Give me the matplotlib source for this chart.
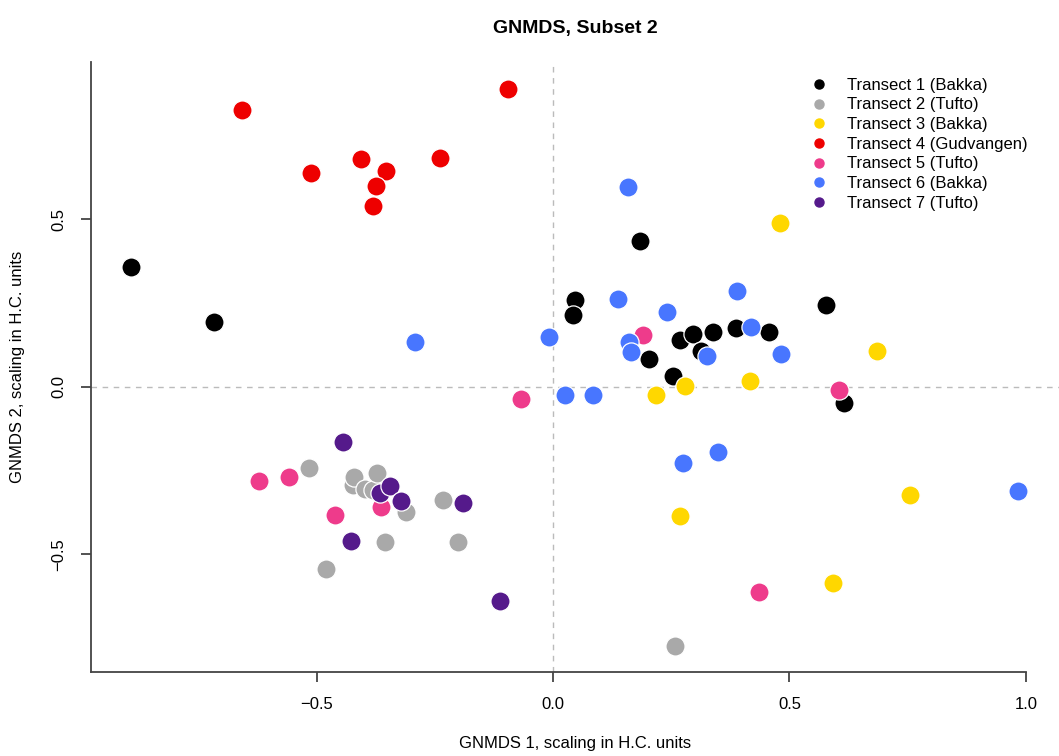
import numpy as np
import matplotlib.pyplot as plt

plt.rcParams['font.family'] = ['Liberation Sans', 'DejaVu Sans']

labels = ['Transect 1 (Bakka)', 'Transect 2 (Tufto)', 'Transect 3 (Bakka)',
          'Transect 4 (Gudvangen)', 'Transect 5 (Tufto)', 'Transect 6 (Bakka)',
          'Transect 7 (Tufto)']
colors = ['#000000', '#A9A9A9', '#FFD700', '#EE0000', '#EE3B8B', '#4876FF', '#551A8B']

t1_x = [-0.892, -0.716, 0.184, 0.047, 0.042, 0.204, 0.269, 0.296, 0.338, 0.314, 0.388, 0.457, 0.577, 0.254, 0.615]
t1_y = [0.357, 0.192, 0.435, 0.260, 0.213, 0.083, 0.140, 0.158, 0.165, 0.108, 0.175, 0.165, 0.243, 0.031, -0.049]

t2_x = [-0.517, -0.481, -0.423, -0.420, -0.398, -0.381, -0.372, -0.356, -0.310, -0.233, -0.200, 0.259]
t2_y = [-0.243, -0.545, -0.293, -0.270, -0.305, -0.307, -0.258, -0.464, -0.374, -0.338, -0.465, -0.775]

t3_x = [0.481, 0.686, 0.217, 0.280, 0.417, 0.268, 0.754, 0.592]
t3_y = [0.489, 0.107, -0.025, 0.003, 0.018, -0.386, -0.324, -0.585]

t4_x = [-0.657, -0.512, -0.407, -0.354, -0.375, -0.381, -0.238, -0.096]
t4_y = [0.827, 0.638, 0.681, 0.643, 0.600, 0.541, 0.684, 0.890]

t5_x = [-0.621, -0.559, -0.462, -0.364, -0.068, 0.190, 0.604, 0.435]
t5_y = [-0.281, -0.271, -0.384, -0.359, -0.036, 0.155, -0.009, -0.613]

t6_x = [-0.292, -0.008, 0.025, 0.085, 0.138, 0.161, 0.164, 0.241, 0.158, 0.390, 0.326, 0.419, 0.483, 0.275, 0.348, 0.983]
t6_y = [0.134, 0.148, -0.026, -0.026, 0.262, 0.133, 0.105, 0.222, 0.596, 0.287, 0.093, 0.177, 0.099, -0.228, -0.195, -0.310]

t7_x = [-0.445, -0.428, -0.366, -0.344, -0.321, -0.190, -0.113]
t7_y = [-0.165, -0.462, -0.316, -0.296, -0.342, -0.348, -0.639]

xs = [t1_x, t2_x, t3_x, t4_x, t5_x, t6_x, t7_x]
ys = [t1_y, t2_y, t3_y, t4_y, t5_y, t6_y, t7_y]

fig = plt.figure(figsize=(10.59, 7.56), dpi=100)
ax = fig.add_axes([91/1059, 84/756, 968/1059, 610/756])

ax.axhline(0, color='#BBBBBB', lw=1, ls=(0, (4, 4)), zorder=0)
ax.axvline(0, color='#BBBBBB', lw=1, ls=(0, (4, 4)), zorder=0)

for x, y, c in zip(xs, ys, colors):
    ax.scatter(x, y, s=190, color=c, edgecolors='white', linewidths=0.9, zorder=2)

# legend with small dots
handles = [plt.Line2D([], [], ls='', marker='o', ms=6.5, color=c) for c in colors]
ax.legend(handles, labels, loc='upper left', bbox_to_anchor=(713/968, 1 - 9/610),
          frameon=False, fontsize=12, handletextpad=1.2, labelspacing=0.28,
          handlelength=1.0, borderaxespad=0)

ax.set_xlim(-0.977, 1.070)
ax.set_ylim(-0.852, 0.970)
ax.set_xticks([-0.5, 0.0, 0.5, 1.0])
ax.set_yticks([-0.5, 0.0, 0.5])
ax.set_xticklabels(['\u22120.5', '0.0', '0.5', '1.0'])
ax.set_yticklabels(['\u22120.5', '0.0', '0.5'], rotation=90, va='center')

for s in ['top', 'right']:
    ax.spines[s].set_visible(False)
for s in ['left', 'bottom']:
    ax.spines[s].set_color('#444444')
    ax.spines[s].set_linewidth(1.3)
ax.spines['bottom'].set_bounds(-0.977, 1.0)
ax.tick_params(direction='out', length=7, width=1.3, color='#444444', labelsize=12, pad=11)

ax.set_xlabel('GNMDS 1, scaling in H.C. units', fontsize=12, labelpad=17)
ax.set_ylabel('GNMDS 2, scaling in H.C. units', fontsize=12, labelpad=19)
ax.set_title('GNMDS, Subset 2', fontsize=14, fontweight='bold', pad=21)

fig.savefig('out.png', dpi=100)
